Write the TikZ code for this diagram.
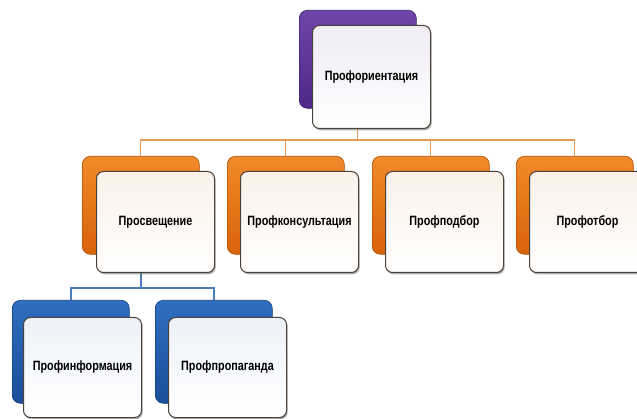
\documentclass[tikz,border=0pt]{standalone}
\usepackage{fontspec}
\setmainfont{Liberation Sans}
\newfontfamily\boxfont[FakeStretch=0.8]{Liberation Sans}
\usetikzlibrary{shadows}
\definecolor{pTop}{HTML}{6E45A8}
\definecolor{pBot}{HTML}{4E2886}
\definecolor{oTop}{HTML}{F08A2A}
\definecolor{oBot}{HTML}{D9630A}
\definecolor{bTop}{HTML}{2F6FC0}
\definecolor{bBot}{HTML}{1A4E98}
\definecolor{pFront}{HTML}{EFECF5}
\definecolor{oFront}{HTML}{FBF1E8}
\definecolor{bFront}{HTML}{EDF2F8}
\definecolor{frameC}{HTML}{4A4238}
\definecolor{oLine}{HTML}{E99A55}
\definecolor{bLine}{HTML}{4A7EBB}
\tikzset{
  back/.style 2 args={rounded corners=8pt, top color=#1, bottom color=#2, draw=#2!80!black, line width=0.6pt,
     minimum width=117pt, minimum height=98pt, inner sep=0pt, anchor=north west},
  front/.style={rounded corners=7pt, top color=#1, bottom color=white, draw=frameC, line width=1pt,
     minimum width=118pt, minimum height=101pt, inner sep=0pt, anchor=north west,
     drop shadow={shadow xshift=1.2pt, shadow yshift=-1.8pt, opacity=0.45, fill=black!70}},
  lbl/.style={font=\boxfont\fontsize{13.5}{15}\selectfont\bfseries, text=black},
  oconn/.style={draw=oLine, line width=1.1pt},
  bconn/.style={draw=bLine, line width=1.4pt}
}
\begin{document}
\begin{tikzpicture}[x=1pt,y=-1pt]
\useasboundingbox (0,0) rectangle (637,419);
\clip (0,0) rectangle (637,419);
\fill[white] (0,0) rectangle (637,419);
% back boxes
\node[back={pTop}{pBot}] (pb) at (299,10) {};
\node[back={oTop}{oBot}] (ob1) at (82,156) {};
\node[back={oTop}{oBot}] (ob2) at (227,156) {};
\node[back={oTop}{oBot}] (ob3) at (372,156) {};
\node[back={oTop}{oBot}] (ob4) at (516,156) {};
\node[back={bTop}{bBot}, minimum height=103pt] (bb1) at (12,300) {};
\node[back={bTop}{bBot}, minimum height=103pt] (bb2) at (155,300) {};
% connectors
\coordinate (oj) at (0,140);
\coordinate (bj) at (0,288);
\draw[oconn] (pb.south) -- (pb.south |- oj);
\draw[oconn] (ob1.north) |- (ob4.north |- oj) -- (ob4.north);
\draw[oconn] (ob2.north) -- (ob2.north |- oj);
\draw[oconn] (ob3.north) -- (ob3.north |- oj);
\draw[bconn] (ob1.south) -- (ob1.south |- bj);
\draw[bconn] (bb1.north) |- (bb2.north |- bj) -- (bb2.north);
% front boxes
\node[front=pFront, minimum height=103pt] (pf) at (312,25) {};
\node[front=oFront] (of1) at (96,171) {};
\node[front=oFront] (of2) at (240,171) {};
\node[front=oFront] (of3) at (385,171) {};
\node[front=oFront] (of4) at (529,171) {};
\node[front=bFront, minimum height=100pt] (bf1) at (23,317) {};
\node[front=bFront, minimum height=100pt] (bf2) at (168,317) {};
% labels
\node[lbl] (t0) at (pf.center) {Профориентация};
\node[lbl] (t1) at (of1.center) {Просвещение};
\node[lbl] (t2) at (of2.center) {Профконсультация};
\node[lbl] (t3) at (of3.center) {Профподбор};
\node[lbl] (t4) at ([xshift=-1pt]of4.center) {Профотбор};
\node[lbl] (t5) at (bf1.center) {Профинформация};
\node[lbl] (t6) at (bf2.center) {Профпропаганда};
\end{tikzpicture}
\end{document}
